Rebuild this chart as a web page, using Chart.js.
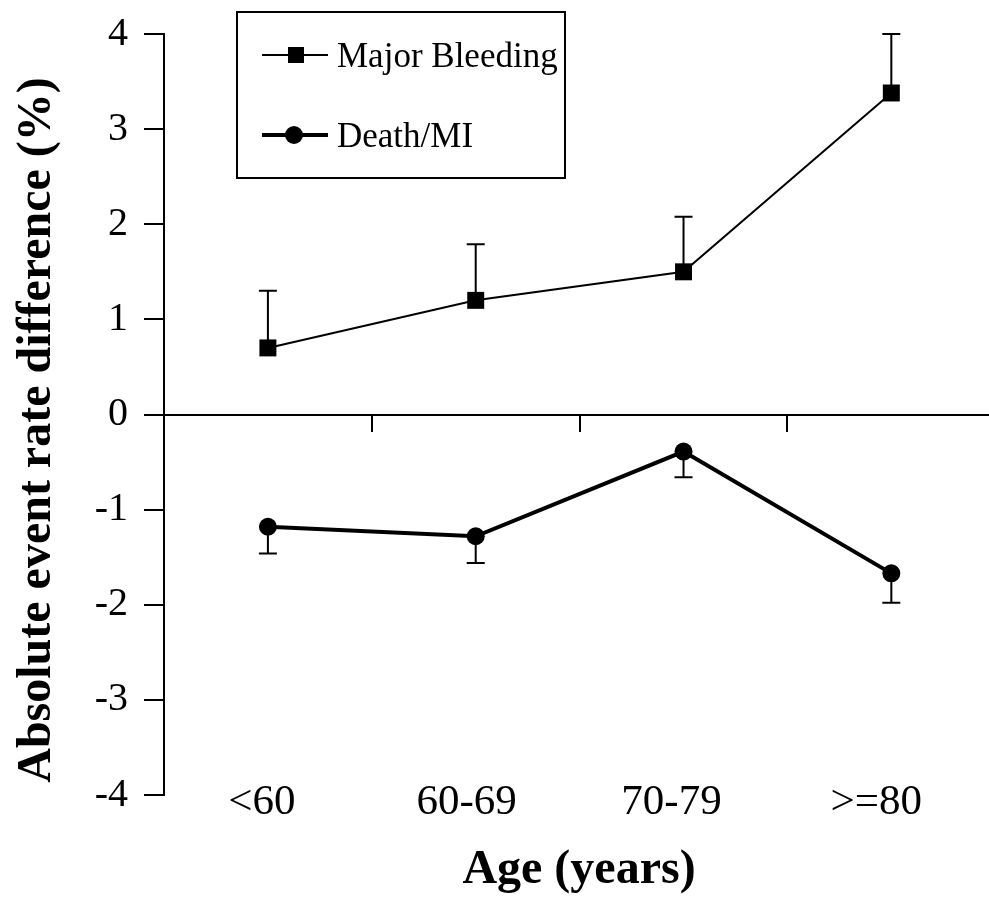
<!DOCTYPE html>
<html>
<head>
<meta charset="utf-8">
<script src="https://cdn.jsdelivr.net/npm/chart.js@4.4.1/dist/chart.umd.min.js"></script>
<style>
  body { margin: 0; background: #fff; }
  canvas { display: block; }
</style>
</head>
<body>
<canvas id="ageChart" width="989" height="898"></canvas>
<script>
// values
const categories = ['<60', '60-69', '70-79', '>=80'];
const bleeding = [0.7, 1.2, 1.5, 3.38];
const bleedingUpper = [1.3, 1.79, 2.08, 4.0];
const deathMI = [-1.18, -1.28, -0.39, -1.67];
const deathLower = [-1.46, -1.56, -0.66, -1.98];
const yTicks = [-4, -3, -2, -1, 0, 1, 2, 3, 4];

const serif = '"Liberation Serif", "Times New Roman", serif';

// error bars: one sided, up for bleeding, down for death/MI
const errorBars = {
    id: 'errorBars',
    beforeDatasetsDraw(chart) {
        const ctx = chart.ctx;
        const x = chart.scales.x, y = chart.scales.y;
        const ends = [bleedingUpper, deathLower];
        ctx.save();
        ctx.strokeStyle = '#000';
        ctx.lineWidth = 2;
        [bleeding, deathMI].forEach((vals, d) => {
            vals.forEach((v, i) => {
                const px = x.getPixelForValue(i);
                const y0 = y.getPixelForValue(v);
                const y1 = y.getPixelForValue(ends[d][i]);
                ctx.beginPath();
                ctx.moveTo(px, y0);
                ctx.lineTo(px, y1);
                ctx.moveTo(px - 9, y1);
                ctx.lineTo(px + 9, y1);
                ctx.stroke();
            });
        });
        ctx.restore();
    }
};

// titles, category labels and the boxed legend
const decorations = {
    id: 'decorations',
    afterDraw(chart) {
        const ctx = chart.ctx;
        const x = chart.scales.x;
        ctx.save();
        ctx.fillStyle = '#000';

        ctx.font = '43px ' + serif;
        ctx.textAlign = 'center';
        ctx.textBaseline = 'alphabetic';
        categories.forEach((c, i) => {
            ctx.fillText(c, x.getPixelForValue(i) - 6 - 3 * i, 814);
        });

        ctx.font = 'bold 48px ' + serif;
        ctx.fillText('Age (years)', 579, 883);

        ctx.save();
        ctx.translate(50, 430);
        ctx.rotate(-Math.PI / 2);
        ctx.fillText('Absolute event rate difference (%)', 0, 0);
        ctx.restore();

        // legend
        ctx.strokeStyle = '#000';
        ctx.lineWidth = 2;
        ctx.strokeRect(237, 12, 328, 166);

        ctx.beginPath();
        ctx.moveTo(262, 55);
        ctx.lineTo(328, 55);
        ctx.stroke();
        ctx.fillRect(288, 47, 16, 16);

        ctx.lineWidth = 4;
        ctx.beginPath();
        ctx.moveTo(262, 135);
        ctx.lineTo(328, 135);
        ctx.stroke();
        ctx.beginPath();
        ctx.arc(294, 135, 9, 0, Math.PI * 2);
        ctx.fill();

        ctx.font = '35px ' + serif;
        ctx.textAlign = 'left';
        ctx.fillText('Major Bleeding', 337, 67);
        ctx.fillText('Death/MI', 337, 147);
        ctx.restore();
    }
};

// drop the label overflow padding so the plot box is set by layout.padding
function noPadding(scale) {
    scale.paddingTop = 0;
    scale.paddingBottom = 0;
    scale.paddingLeft = 0;
    scale.paddingRight = 0;
}

const ctx = document.getElementById('ageChart').getContext('2d');
new Chart(ctx, {
    type: 'line',
    data: {
        datasets: [{
            label: 'Major Bleeding',
            data: bleeding.map((v, i) => ({ x: i, y: v })),
            borderColor: '#000',
            backgroundColor: '#000',
            borderWidth: 2,
            pointStyle: 'rect',
            pointRadius: 12,
            pointBorderWidth: 0,
            tension: 0
        },
        {
            label: 'Death/MI',
            data: deathMI.map((v, i) => ({ x: i, y: v })),
            borderColor: '#000',
            backgroundColor: '#000',
            borderWidth: 4,
            pointStyle: 'circle',
            pointRadius: 9,
            pointBorderWidth: 0,
            tension: 0
        }]
    },
    options: {
        responsive: false,
        animation: false,
        layout: {
            autoPadding: false,
            padding: { top: 34, bottom: 103, left: 0, right: 0 }
        },
        plugins: {
            legend: { display: false },
            tooltip: { enabled: false }
        },
        scales: {
            x: {
                type: 'linear',
                position: { y: 0 },
                min: -0.5,
                max: 3.47,
                afterFit: noPadding,
                afterBuildTicks: axis => {
                    axis.ticks = [0.5, 1.5, 2.5].map(v => ({ value: v }));
                },
                ticks: { display: false },
                grid: {
                    drawOnChartArea: false,
                    tickLength: 16,
                    color: '#000',
                    lineWidth: 2
                },
                border: { color: '#000', width: 2 }
            },
            y: {
                min: -4,
                max: 4,
                afterFit: scale => {
                    scale.width = 164;
                    noPadding(scale);
                },
                afterBuildTicks: axis => {
                    axis.ticks = yTicks.map(v => ({ value: v }));
                },
                ticks: {
                    color: '#000',
                    padding: 16,
                    font: { family: serif, size: 40 }
                },
                grid: {
                    drawOnChartArea: false,
                    tickLength: 20,
                    color: '#000',
                    lineWidth: 2
                },
                border: { color: '#000', width: 2 }
            }
        }
    },
    plugins: [errorBars, decorations]
});
</script>
</body>
</html>
